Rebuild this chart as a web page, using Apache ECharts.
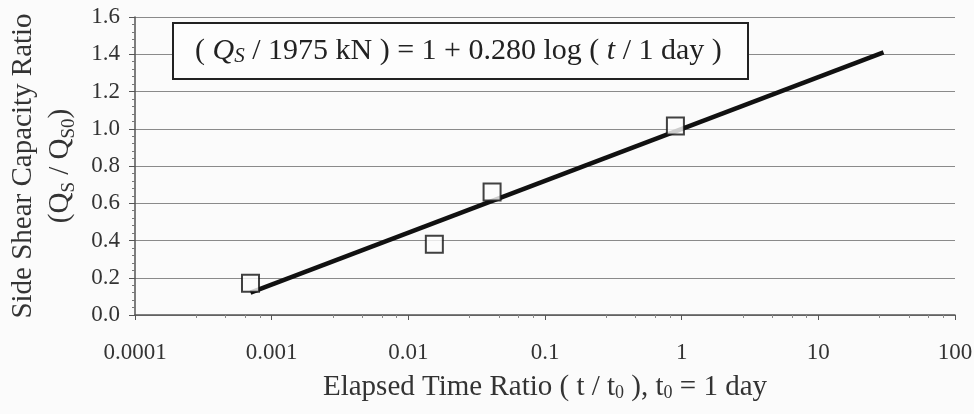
<!DOCTYPE html>
<html><head><meta charset="utf-8">
<script src="https://cdn.jsdelivr.net/npm/echarts@6/dist/echarts.min.js"></script>
<style>html,body{margin:0;padding:0;background:#fbfbfb}#c{width:974px;height:414px}</style>
</head><body><div id="c"></div>
<script>
const xTickLabels = ['0.0001','0.001','0.01','0.1','1','10','100'];
const yTicks = [0,0.2,0.4,0.6,0.8,1.0,1.2,1.4,1.6];
const measuredT = [0.0007, 0.0155, 0.041, 0.9];
const measuredRatio = [0.17, 0.38, 0.66, 1.015];
const fitT = [0.0007, 30];
const fitRatio = [0.12, 1.41];

const serif = '"Liberation Serif","DejaVu Serif",serif';
const chart = echarts.init(document.getElementById('c'));
chart.setOption({
  backgroundColor: '#fbfbfb',
  animation: false,
  grid: {left: 135, right: 19, top: 17, bottom: 99, outerBoundsMode: 'none', containLabel: false},
  xAxis: {
    type: 'log', logBase: 10, min: 0.0001, max: 100,
    name: '{a|Elapsed Time Ratio ( t / t}{s|0}{a| ), t}{s|0}{a| = 1 day}',
    nameLocation: 'middle', nameGap: 57,
    nameTextStyle: {rich: {
      a: {fontFamily: serif, fontSize: 29, color: '#333'},
      s: {fontFamily: serif, fontSize: 18, color: '#333', verticalAlign: 'bottom', padding: [12,0,0,0]}
    }},
    axisLine: {lineStyle: {color: '#555', width: 1.5}},
    axisTick: {show: true, inside: false, length: 5, lineStyle: {color: '#555'}},
    minorTick: {show: true, length: 3, lineStyle: {color: '#888'}},
    splitLine: {show: false},
    axisLabel: {
      fontFamily: serif, fontSize: 23, color: '#333', margin: 26,
      formatter: v => xTickLabels[Math.round(Math.log10(v)) + 4]
    }
  },
  yAxis: {
    type: 'value', min: 0, max: 1.6, interval: 0.2,
    name: '{a|Side Shear Capacity Ratio}\n{a|(Q}{s|S}{a| / Q}{s|S0}{a|)}',
    nameLocation: 'middle', nameRotate: 90, nameGap: 56,
    nameTextStyle: {lineHeight: 37, rich: {
      a: {fontFamily: serif, fontSize: 29, color: '#333', lineHeight: 37},
      s: {fontFamily: serif, fontSize: 19, color: '#333', verticalAlign: 'bottom', lineHeight: 37, padding: [12,0,0,0]}
    }},
    axisLine: {show: true, lineStyle: {color: '#555', width: 1.5}},
    axisTick: {show: true, inside: false, length: 6, lineStyle: {color: '#555'}},
    minorTick: {show: true, splitNumber: 5, length: 3, lineStyle: {color: '#777'}},
    splitLine: {show: true, lineStyle: {color: '#8a8a8a', width: 1}},
    axisLabel: {
      fontFamily: serif, fontSize: 23, color: '#333', margin: 15,
      formatter: v => yTicks.find(t => Math.abs(t - v) < 1e-6).toFixed(1)
    }
  },
  graphic: [
    {type: 'rect', left: 172, top: 22, z: 10, shape: {width: 575, height: 56},
     style: {fill: '#fdfdfd', stroke: '#222', lineWidth: 2}},
    {type: 'text', left: 195, top: 36, z: 11, style: {
      text: '{a|( }{i|Q}{is|S}{a| / 1975 kN ) = 1 + 0.280 log ( }{i|t}{a| / 1 day )}',
      rich: {
        a: {fontFamily: serif, fontSize: 30, fill: '#222'},
        i: {fontFamily: serif, fontSize: 30, fontStyle: 'italic', fill: '#222'},
        is: {fontFamily: serif, fontSize: 21, fontStyle: 'italic', fill: '#222', verticalAlign: 'bottom', padding: [10,0,0,0]}
      }
    }}
  ],
  series: [
    {type: 'line', data: fitT.map((t, i) => [t, fitRatio[i]]), symbol: 'none',
     lineStyle: {color: '#111', width: 4.5}, z: 3},
    {type: 'scatter', data: measuredT.map((t, i) => [t, measuredRatio[i]]),
     symbol: 'rect', symbolSize: 17,
     itemStyle: {color: '#fdfdfd', borderColor: '#111', borderWidth: 2}, z: 5}
  ]
});
</script></body></html>
